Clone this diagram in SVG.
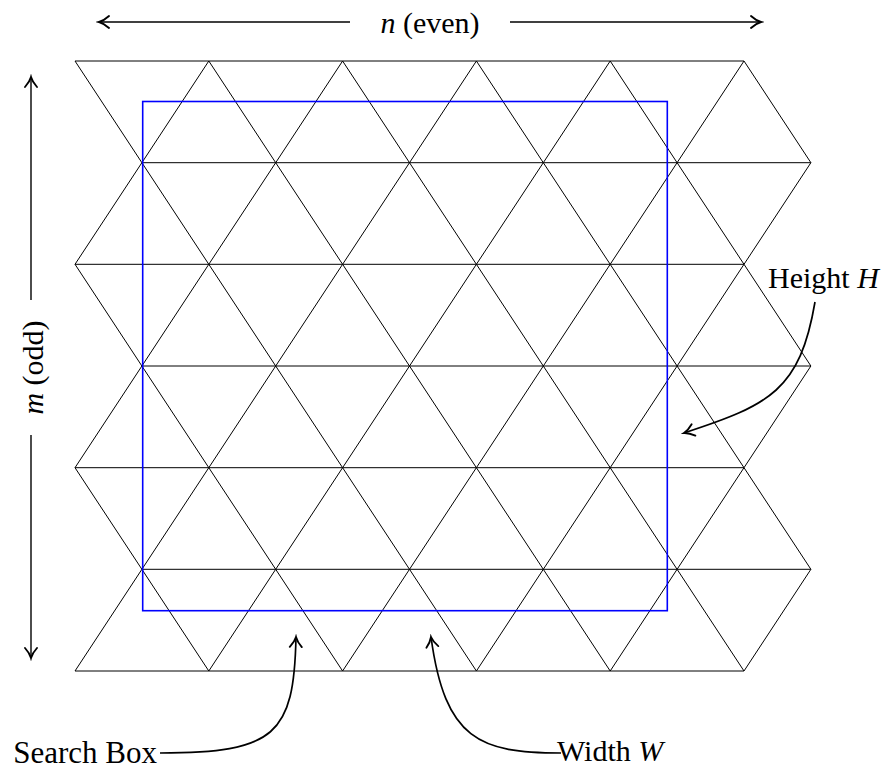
<svg xmlns="http://www.w3.org/2000/svg" width="893" height="771" viewBox="0 0 893 771">
  <style>
    .grid { fill: none; stroke: #000; stroke-width: 1; stroke-linejoin: miter; }
    .box { fill: none; stroke: #0000ff; stroke-width: 1.6; }
    .dim { fill: none; stroke: #000; stroke-width: 1.4; }
    .curve { fill: none; stroke: #000; stroke-width: 1.7; }
    text { font-family: "Liberation Serif", "Times New Roman", serif; font-size: 30px; fill: #000; }
    .math { font-style: italic; }
  </style>
  <defs>
    <marker id="arr" markerUnits="userSpaceOnUse" markerWidth="16" markerHeight="16" viewBox="-9 -6 11 12" refX="0" refY="0" orient="auto-start-reverse">
      <path d="M -7.5 -4.5 C -4.5 -1.8 -1.8 -0.5 0 0 C -1.8 0.5 -4.5 1.8 -7.5 4.5" fill="none" stroke="#000" stroke-width="1.4" stroke-linecap="round"/>
    </marker>
  </defs>

  <g id="grid" class="grid">
    <polyline points="75,61 141.9,162.7 208.8,61 275.7,162.7 342.6,61 409.5,162.7 476.4,61 543.3,162.7 610.2,61 677.1,162.7 744,61 810.9,162.7"/>
    <polyline points="75,264.3 141.9,162.7 208.8,264.3 275.7,162.7 342.6,264.3 409.5,162.7 476.4,264.3 543.3,162.7 610.2,264.3 677.1,162.7 744,264.3 810.9,162.7"/>
    <polyline points="75,264.3 141.9,366 208.8,264.3 275.7,366 342.6,264.3 409.5,366 476.4,264.3 543.3,366 610.2,264.3 677.1,366 744,264.3 810.9,366"/>
    <polyline points="75,467.7 141.9,366 208.8,467.7 275.7,366 342.6,467.7 409.5,366 476.4,467.7 543.3,366 610.2,467.7 677.1,366 744,467.7 810.9,366"/>
    <polyline points="75,467.7 141.9,569.3 208.8,467.7 275.7,569.3 342.6,467.7 409.5,569.3 476.4,467.7 543.3,569.3 610.2,467.7 677.1,569.3 744,467.7 810.9,569.3"/>
    <polyline points="75,671 141.9,569.3 208.8,671 275.7,569.3 342.6,671 409.5,569.3 476.4,671 543.3,569.3 610.2,671 677.1,569.3 744,671 810.9,569.3"/>
    <line x1="75" y1="61" x2="744" y2="61"/>
    <line x1="141.9" y1="162.7" x2="810.9" y2="162.7"/>
    <line x1="75" y1="264.3" x2="744" y2="264.3"/>
    <line x1="141.9" y1="366" x2="810.9" y2="366"/>
    <line x1="75" y1="467.7" x2="744" y2="467.7"/>
    <line x1="141.9" y1="569.3" x2="810.9" y2="569.3"/>
    <line x1="75" y1="671" x2="744" y2="671"/>
  </g>

  <g id="search-box">
    <rect class="box" x="142.7" y="101.5" width="524.6" height="509.2"/>
  </g>

  <g id="connectors">
    <line class="dim" x1="350" y1="22" x2="99" y2="22" marker-end="url(#arr)"/>
    <line class="dim" x1="510" y1="22" x2="761" y2="22" marker-end="url(#arr)"/>
    <line class="dim" x1="31" y1="300" x2="31" y2="77" marker-end="url(#arr)"/>
    <line class="dim" x1="31" y1="435" x2="31" y2="658" marker-end="url(#arr)"/>
    <path class="curve" d="M 815 302 C 800 390 770 405 684 433" marker-end="url(#arr)"/>
    <path class="curve" d="M 160 753 C 275 753 294 735 296 637" marker-end="url(#arr)"/>
    <path class="curve" d="M 561 753 C 480 753 445 740 431 637" marker-end="url(#arr)"/>
  </g>

  <g id="labels">
    <text id="label-n" x="430" y="33" text-anchor="middle" font-family="Liberation Serif, serif"><tspan class="math">n</tspan> (even)</text>
    <text id="label-m" transform="translate(43,367.5) rotate(-90)" text-anchor="middle" font-family="Liberation Serif, serif"><tspan class="math">m</tspan> (odd)</text>
    <text id="label-height" x="768" y="288" font-family="Liberation Serif, serif">Height <tspan class="math">H</tspan></text>
    <text id="label-search" x="157" y="763" text-anchor="end" font-size="31" font-family="Liberation Serif, serif" style="font-size:31px">Search Box</text>
    <text id="label-width" x="557" y="761" font-family="Liberation Serif, serif">Width <tspan class="math">W</tspan></text>
  </g>
</svg>
